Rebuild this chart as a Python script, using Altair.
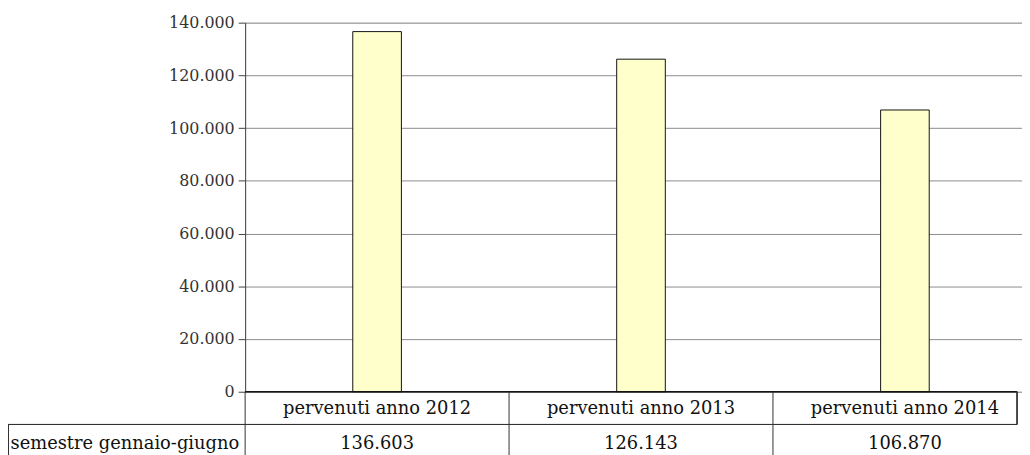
import altair as alt
import pandas as pd

categories = ["pervenuti anno 2012", "pervenuti anno 2013", "pervenuti anno 2014"]
values = [136603, 126143, 106870]
row_label = "semestre gennaio-giugno"
y_ticks = [0, 20000, 40000, 60000, 80000, 100000, 120000, 140000]

df = pd.DataFrame({"idx": list(range(len(categories))), "cat": categories, "value": values})
bounds = pd.DataFrame({"b": [i - 0.5 for i in range(len(categories))]})
header = pd.DataFrame({"label": [row_label]})

FONT = "DejaVu Serif"
W, H = 783, 372
LINE = "#333333"

xscale = alt.Scale(domain=[-0.5, -0.5 + W / 266], nice=False, zero=False, padding=0)

base = alt.Chart(df)

bars = base.mark_bar(size=49, fill="#FFFFCC", stroke="#111111", strokeWidth=1).encode(
    x=alt.X("idx:Q", scale=xscale, axis=None),
    y=alt.Y(
        "value:Q",
        scale=alt.Scale(domain=[0, 140000], nice=False, padding=0),
        axis=alt.Axis(
            values=y_ticks,
            title=None,
            grid=True,
            gridColor="#8c8c8c",
            gridWidth=1,
            domainColor="#404040",
            tickColor="#404040",
            tickSize=7,
            labelPadding=4,
            labelFont=FONT,
            labelFontSize=16,
            labelColor="#333333",
            labelExpr="replace(format(datum.value, ','), ',', '.')",
        ),
    ),
)

# table lines
zero_line = base.mark_rule(color="#111111", strokeWidth=1).encode(
    x=alt.value(0), x2=alt.value(778), y=alt.value(H)
)
row_sep = base.mark_rule(color=LINE, strokeWidth=1).encode(
    x=alt.value(-238.5), x2=alt.value(778), y=alt.value(405)
)
left_border = base.mark_rule(color=LINE, strokeWidth=1).encode(
    x=alt.value(-238.5), y=alt.value(405), y2=alt.value(H + 70)
)
right_border = base.mark_rule(color=LINE, strokeWidth=1).encode(
    x=alt.value(778), y=alt.value(H), y2=alt.value(405)
)
col_seps = alt.Chart(bounds).mark_rule(color=LINE, strokeWidth=1).encode(
    x=alt.X("b:Q", scale=xscale, axis=None), y=alt.value(H), y2=alt.value(H + 70)
)

cat_text = base.mark_text(font=FONT, fontSize=18, color="#111111", baseline="middle").encode(
    x=alt.X("idx:Q", scale=xscale, axis=None), y=alt.value(389), text="cat:N"
)
val_text = base.transform_calculate(
    lab="replace(format(datum.value, ','), ',', '.')"
).mark_text(font=FONT, fontSize=18, color="#111111", baseline="middle").encode(
    x=alt.X("idx:Q", scale=xscale, axis=None), y=alt.value(425), text="lab:N"
)
head_text = alt.Chart(header).mark_text(
    font=FONT, fontSize=18, color="#111111", baseline="middle", align="right"
).encode(x=alt.value(-6), y=alt.value(425), text="label:N")

chart = alt.layer(
    bars, zero_line, row_sep, left_border, right_border, col_seps, cat_text, val_text, head_text
).properties(
    width=W,
    height=H,
    autosize=alt.AutoSizeParams(type="none"),
    padding={"left": 239, "top": 13, "right": 0, "bottom": 62},
).configure_view(stroke=None).configure(background="white")

chart.save("out.html", embed_options={"renderer": "svg", "actions": False})
